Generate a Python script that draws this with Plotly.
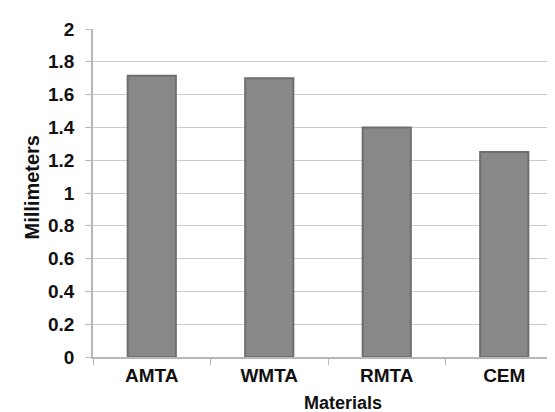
import plotly.graph_objects as go

categories = ["AMTA", "WMTA", "RMTA", "CEM"]
values = [1.715, 1.70, 1.40, 1.25]
y_ticks = [0, 0.2, 0.4, 0.6, 0.8, 1, 1.2, 1.4, 1.6, 1.8, 2]
y_tick_labels = ["0", "0.2", "0.4", "0.6", "0.8", "1", "1.2", "1.4", "1.6", "1.8", "2"]

W, H = 555, 412
ML, MR, MT, MB = 85, 0, 21, 63
PW, PH = W - ML - MR, H - MT - MB

fig = go.Figure()
fig.add_trace(go.Bar(
    x=categories, y=values, width=0.41,
    marker=dict(color="#888888", line=dict(color="#6e6e6e", width=2)),
))

font_family = "Liberation Sans, Arial, sans-serif"
fig.update_layout(
    width=W, height=H,
    margin=dict(l=ML, r=MR, t=MT, b=MB),
    paper_bgcolor="white", plot_bgcolor="white",
    showlegend=False,
    font=dict(family=font_family, color="#111111"),
    xaxis=dict(
        range=[-0.5, 3.5],
        showline=True, linecolor="#b8b8b8", linewidth=1.5,
        ticks="outside", tickson="boundaries", ticklen=6, tickcolor="#b8b8b8",
        tickfont=dict(size=19, family=font_family, color="#111111", weight="bold"),
        showgrid=False,
    ),
    yaxis=dict(
        range=[0, 2],
        tickvals=y_ticks, ticktext=y_tick_labels,
        showline=True, linecolor="#b8b8b8", linewidth=1.5,
        ticks="outside", ticklen=6, tickcolor="#b8b8b8",
        ticklabelstandoff=7,
        tickfont=dict(size=19, family=font_family, color="#111111", weight="bold"),
        showgrid=True, gridcolor="#cccccc", gridwidth=1.2,
        zeroline=False,
    ),
    annotations=[
        dict(text="<b>Materials</b>", xref="paper", yref="paper",
             x=(334.5 - ML) / PW, y=(H - MB - 395) / PH,
             xanchor="center", yanchor="middle", showarrow=False,
             font=dict(size=18, family=font_family, color="#111111")),
        dict(text="<b>Millimeters</b>", xref="paper", yref="paper",
             x=(23 - ML) / PW, y=(H - MB - 179.5) / PH,
             xanchor="center", yanchor="middle", showarrow=False, textangle=-90,
             font=dict(size=20, family=font_family, color="#111111")),
    ],
)

fig.write_html("out.html")
